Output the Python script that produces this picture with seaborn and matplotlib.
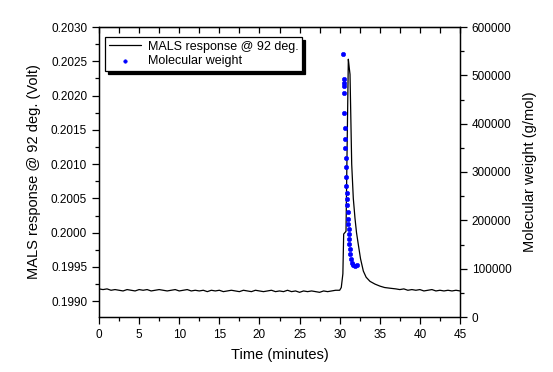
import numpy as np
import pandas as pd
import matplotlib
matplotlib.use("Agg")
import matplotlib.pyplot as plt
from matplotlib.ticker import MultipleLocator, FormatStrFormatter
import seaborn as sns

# MALS trace (time in minutes, response in Volt)
time_min = [0, 0.5, 1, 1.5, 2, 2.5, 3, 3.5, 4, 4.5, 5, 5.5, 6, 6.5, 7, 7.5, 8, 8.5,
            9, 9.5, 10, 10.5, 11, 11.5, 12, 12.5, 13, 13.5, 14, 14.5, 15, 15.5,
            16, 16.5, 17, 17.5, 18, 18.5, 19, 19.5, 20, 20.5, 21, 21.5, 22, 22.5,
            23, 23.5, 24, 24.5, 25, 25.5, 26, 26.5, 27, 27.5, 28, 28.5, 29, 29.5,
            30, 30.2, 30.4, 30.5, 30.79, 30.9, 31.08, 31.2, 31.29, 31.5, 31.7,
            31.91, 32.1, 32.32, 32.6, 32.95, 33.3, 33.78, 34.4, 35.03, 35.6, 36.27,
            37, 37.5, 38, 38.5, 39, 39.5, 40, 40.5, 41, 41.5, 42, 42.5, 43, 43.5,
            44, 44.5, 45]
mals_volt = [0.19918, 0.19917, 0.19918, 0.19916, 0.19917, 0.19916, 0.19915, 0.19917,
             0.19916, 0.19915, 0.19917, 0.19916, 0.19917, 0.19915, 0.19916, 0.19917,
             0.19916, 0.19915, 0.19916, 0.19917, 0.19915, 0.19916, 0.19917, 0.19915,
             0.19916, 0.19915, 0.19916, 0.19914, 0.19916, 0.19915, 0.19916, 0.19914,
             0.19915, 0.19916, 0.19915, 0.19914, 0.19916, 0.19915, 0.19914, 0.19916,
             0.19915, 0.19914, 0.19915, 0.19916, 0.19914, 0.19915, 0.19914, 0.19916,
             0.19914, 0.19915, 0.19913, 0.19915, 0.19914, 0.19915, 0.19914, 0.19913,
             0.19915, 0.19914, 0.19915, 0.19916, 0.19916, 0.19920, 0.19940, 0.19998,
             0.20002, 0.20100, 0.20253, 0.20240, 0.20231, 0.20100, 0.20050, 0.20021,
             0.20000, 0.19983, 0.19962, 0.19944, 0.19935, 0.19929, 0.19925, 0.19922,
             0.19920, 0.19919, 0.19918, 0.19917, 0.19918, 0.19916, 0.19917, 0.19916,
             0.19917, 0.19915, 0.19916, 0.19917, 0.19915, 0.19916, 0.19915, 0.19916,
             0.19915, 0.19916, 0.19915]

# molecular weight points (g/mol)
mw_time = [30.46, 30.54, 30.54, 30.55, 30.58, 30.58, 30.67, 30.67, 30.71, 30.75,
           30.79, 30.83, 30.83, 30.87, 30.92, 30.92, 31.00, 31.04, 31.08, 31.12,
           31.16, 31.16, 31.21, 31.25, 31.29, 31.37, 31.50, 31.70, 31.91, 32.20]
mw_gmol = [545000, 492000, 484000, 478000, 464000, 422000, 391000, 368000, 350000,
           330000, 310000, 289000, 271500, 256000, 245000, 231000, 217000, 203500,
           193000, 183000, 172500, 162000, 152000, 141500, 131000, 121000, 112000,
           107000, 106000, 107000]

mals_df = pd.DataFrame({"time": time_min, "volt": mals_volt})
mw_df = pd.DataFrame({"time": mw_time, "mw": mw_gmol})

sns.set_style("ticks")
plt.rcParams["font.family"] = ["Liberation Sans", "DejaVu Sans"]
plt.rcParams["text.color"] = "black"
plt.rcParams["axes.labelcolor"] = "black"
plt.rcParams["xtick.color"] = "black"
plt.rcParams["ytick.color"] = "black"

fig = plt.figure(figsize=(5.53, 3.72), dpi=100)
ax = fig.add_axes([99 / 553, 1 - 317 / 372, 361 / 553, 290 / 372])
ax2 = ax.twinx()

sns.lineplot(data=mals_df, x="time", y="volt", ax=ax, color="black", lw=0.9,
             label="MALS response @ 92 deg.", legend=False)
sns.scatterplot(data=mw_df, x="time", y="mw", ax=ax2, color="#0000ff", marker="o",
                s=10, edgecolor="#0000ff", linewidth=0.4, label="Molecular weight",
                legend=False, zorder=3)

ax.set_xlim(0, 45)
ax.set_ylim(0.19877, 0.2030)
ax2.set_ylim(0, 600000)

ax.xaxis.set_major_locator(MultipleLocator(5))
ax.xaxis.set_minor_locator(MultipleLocator(2.5))
ax.yaxis.set_major_locator(MultipleLocator(0.0005))
ax.yaxis.set_minor_locator(MultipleLocator(0.00025))
ax.yaxis.set_major_formatter(FormatStrFormatter("%.4f"))
ax2.yaxis.set_major_locator(MultipleLocator(100000))
ax2.yaxis.set_minor_locator(MultipleLocator(50000))
ax2.yaxis.set_major_formatter(FormatStrFormatter("%d"))

for a in (ax, ax2):
    for s in a.spines.values():
        s.set_visible(True)
        s.set_linewidth(0.9)
        s.set_color("black")

ax.tick_params(axis="both", which="major", direction="out", length=5, width=0.9,
               labelsize=8.5, colors="black")
ax.tick_params(axis="both", which="minor", direction="out", length=3, width=0.9)
ax2.tick_params(axis="y", which="major", direction="out", length=5, width=0.9,
                labelsize=8.5, colors="black")
ax2.tick_params(axis="y", which="minor", direction="out", length=3, width=0.9)

# top axis: inward ticks, no labels
top = ax.secondary_xaxis("top")
top.set_xticks(np.arange(0, 45.1, 2.5))
top.tick_params(direction="in", length=4, width=0.9, labeltop=False)
top.set_xticklabels([])
ax.tick_params(axis="x", which="both", top=False)

ax.set_xlabel("Time (minutes)", fontsize=10.5, labelpad=5, color="black")
ax.set_ylabel("MALS response @ 92 deg. (Volt)", fontsize=10.5, labelpad=7,
              color="black")
ax2.set_ylabel("Molecular weight (g/mol)", fontsize=10.5, labelpad=8, color="black")

h1, l1 = ax.get_legend_handles_labels()
h2, l2 = ax2.get_legend_handles_labels()
leg = ax2.legend(h1 + h2, l1 + l2, loc="upper left", bbox_to_anchor=(0.017, 0.966),
                 borderaxespad=0, fontsize=9, frameon=True, fancybox=False,
                 shadow={"color": "black", "alpha": 1}, edgecolor="black",
                 framealpha=1, handlelength=2.6, handletextpad=0.5,
                 borderpad=0.3, labelspacing=0.2, markerscale=0.8)
leg.get_frame().set_linewidth(0.9)
for t in leg.get_texts():
    t.set_color("black")

fig.savefig("out.png", dpi=100)
